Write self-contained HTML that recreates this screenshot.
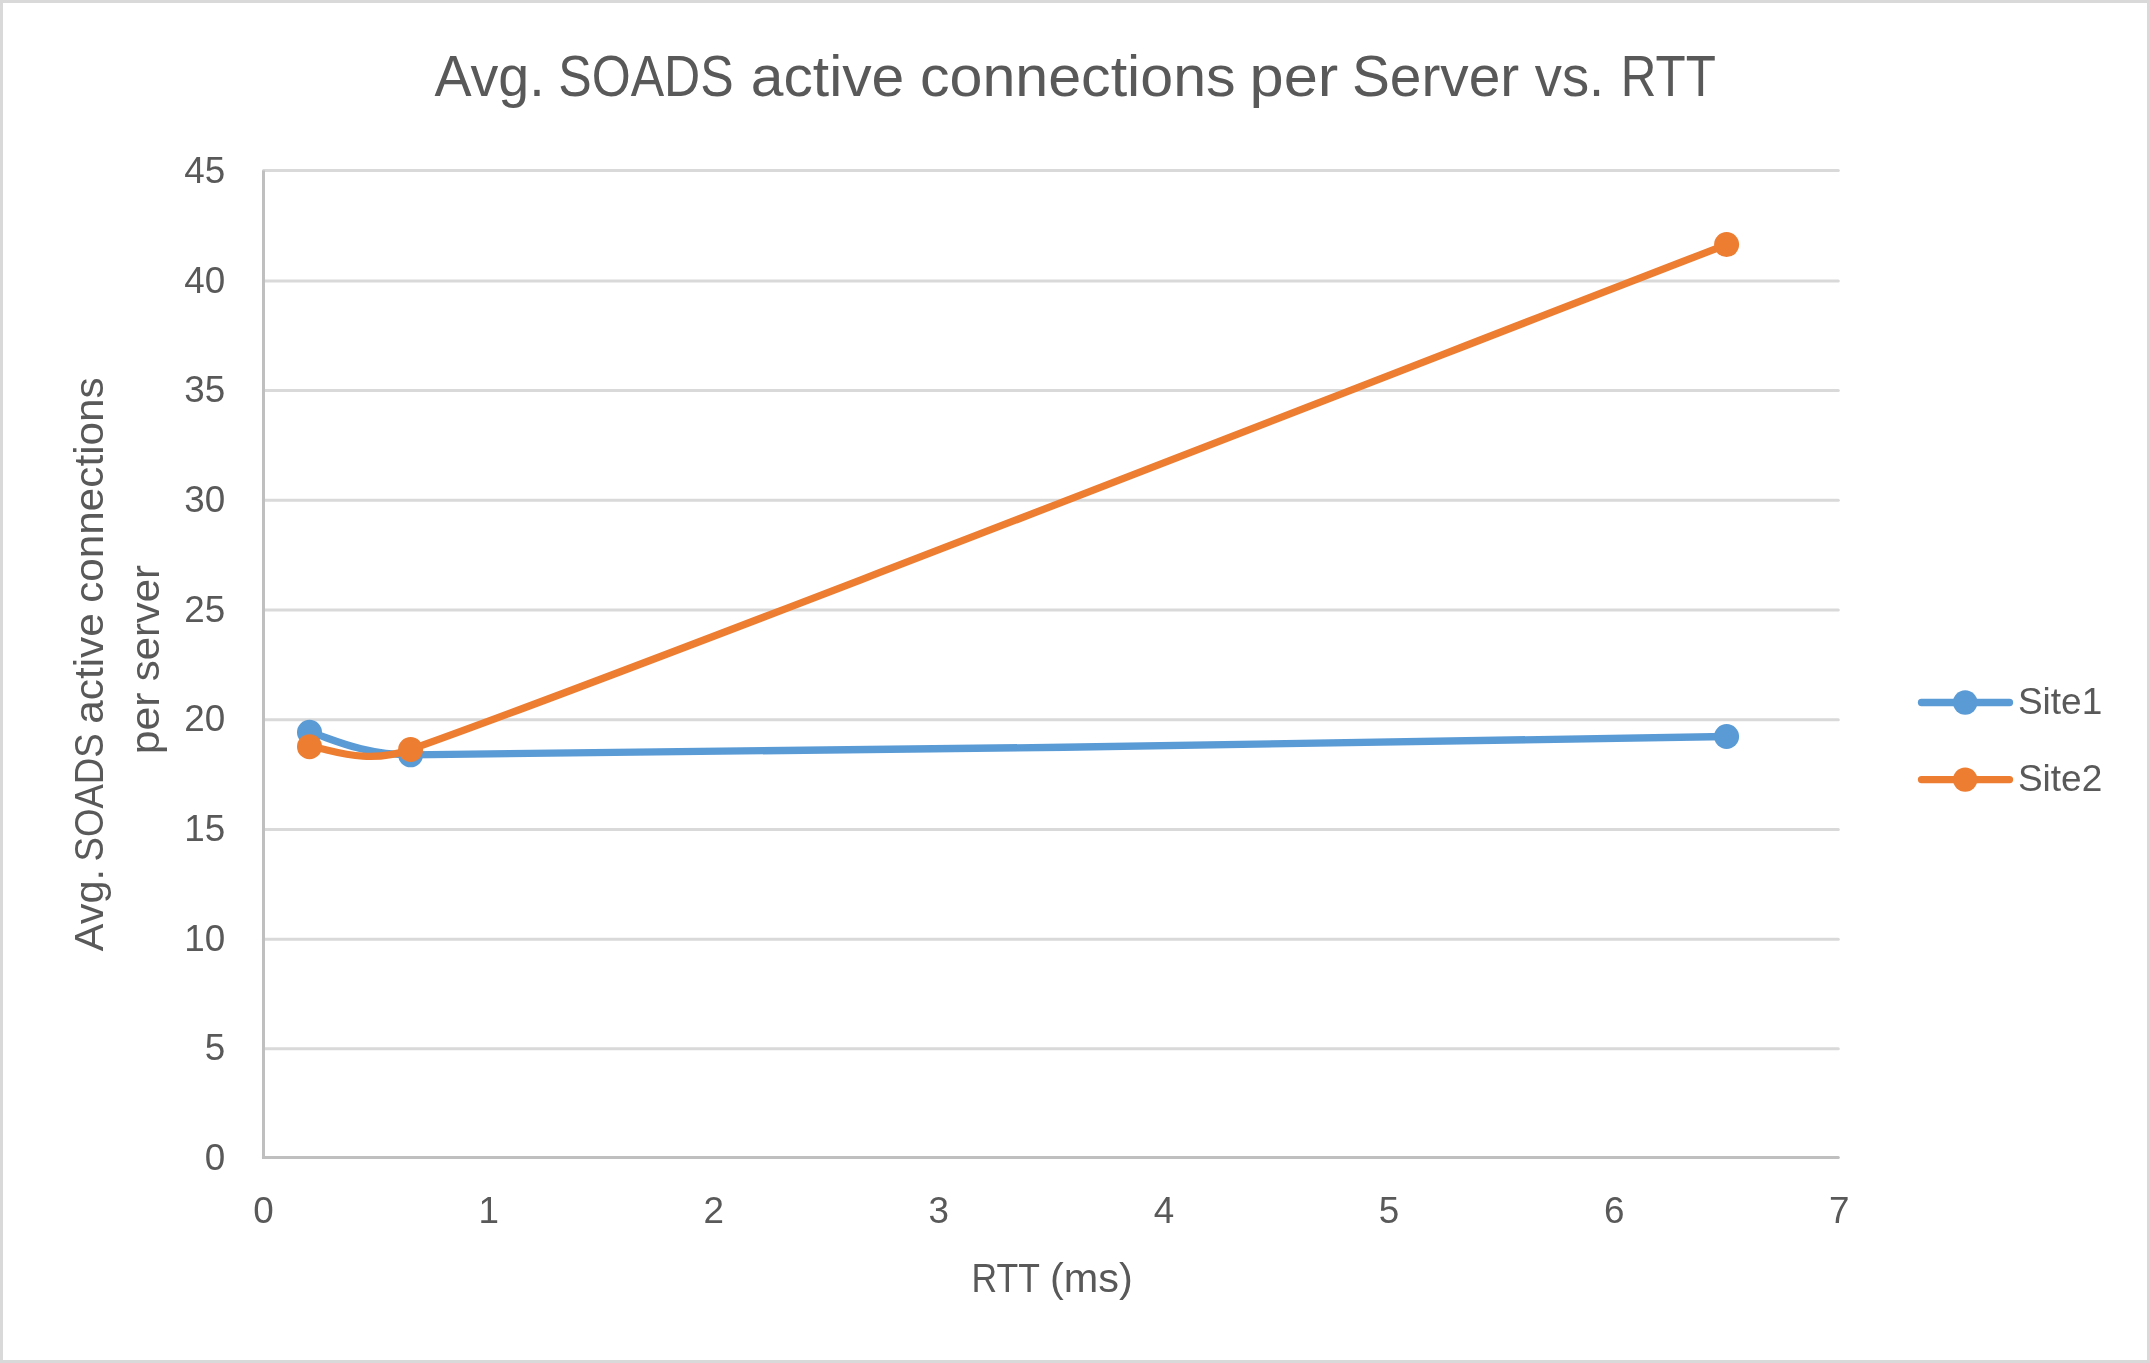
<!DOCTYPE html>
<html lang="en"><head><meta charset="utf-8"><title>Avg. SOADS active connections per Server vs. RTT</title>
<style>html,body{margin:0;padding:0;background:#fff;}svg{display:block;will-change:transform;}text{fill:#595959;font-family:"Liberation Sans",sans-serif;}</style>
</head><body>
<svg width="2150" height="1363" viewBox="0 0 2150 1363">
<rect x="0" y="0" width="2150" height="1363" fill="#ffffff"/>
<rect x="1.5" y="1.5" width="2147" height="1360" fill="none" stroke="#d9d9d9" stroke-width="3"/>
<line x1="263.50" y1="1048.87" x2="1838.30" y2="1048.87" stroke="#d9d9d9" stroke-width="3" stroke-linecap="round"/>
<line x1="263.50" y1="939.16" x2="1838.30" y2="939.16" stroke="#d9d9d9" stroke-width="3" stroke-linecap="round"/>
<line x1="263.50" y1="829.45" x2="1838.30" y2="829.45" stroke="#d9d9d9" stroke-width="3" stroke-linecap="round"/>
<line x1="263.50" y1="719.74" x2="1838.30" y2="719.74" stroke="#d9d9d9" stroke-width="3" stroke-linecap="round"/>
<line x1="263.50" y1="610.03" x2="1838.30" y2="610.03" stroke="#d9d9d9" stroke-width="3" stroke-linecap="round"/>
<line x1="263.50" y1="500.32" x2="1838.30" y2="500.32" stroke="#d9d9d9" stroke-width="3" stroke-linecap="round"/>
<line x1="263.50" y1="390.61" x2="1838.30" y2="390.61" stroke="#d9d9d9" stroke-width="3" stroke-linecap="round"/>
<line x1="263.50" y1="280.90" x2="1838.30" y2="280.90" stroke="#d9d9d9" stroke-width="3" stroke-linecap="round"/>
<line x1="263.50" y1="170.50" x2="1838.30" y2="170.50" stroke="#d9d9d9" stroke-width="3" stroke-linecap="round"/>
<line x1="263.50" y1="170.50" x2="263.50" y2="1159.00" stroke="#bfbfbf" stroke-width="3"/>
<line x1="263.50" y1="1157.50" x2="1838.30" y2="1157.50" stroke="#bfbfbf" stroke-width="3" stroke-linecap="round"/>
<text y="96.2" font-size="57"><tspan x="434.38" textLength="110.31" lengthAdjust="spacingAndGlyphs">Avg.</tspan> <tspan x="558.34" textLength="175.30" lengthAdjust="spacingAndGlyphs">SOADS</tspan> <tspan x="750.71" textLength="153.59" lengthAdjust="spacingAndGlyphs">active</tspan> <tspan x="919.96" textLength="315.68" lengthAdjust="spacingAndGlyphs">connections</tspan> <tspan x="1249.53" textLength="88.75" lengthAdjust="spacingAndGlyphs">per</tspan> <tspan x="1351.92" textLength="167.31" lengthAdjust="spacingAndGlyphs">Server</tspan> <tspan x="1534.79" textLength="69.34" lengthAdjust="spacingAndGlyphs">vs.</tspan> <tspan x="1620.82" textLength="95.03" lengthAdjust="spacingAndGlyphs">RTT</tspan></text>
<text x="225.3" y="1170.03" font-size="36.8" text-anchor="end">0</text>
<text x="225.3" y="1060.36" font-size="36.8" text-anchor="end">5</text>
<text x="225.3" y="950.69" font-size="36.8" text-anchor="end">10</text>
<text x="225.3" y="841.02" font-size="36.8" text-anchor="end">15</text>
<text x="225.3" y="731.35" font-size="36.8" text-anchor="end">20</text>
<text x="225.3" y="621.68" font-size="36.8" text-anchor="end">25</text>
<text x="225.3" y="512.01" font-size="36.8" text-anchor="end">30</text>
<text x="225.3" y="402.34" font-size="36.8" text-anchor="end">35</text>
<text x="225.3" y="292.67" font-size="36.8" text-anchor="end">40</text>
<text x="225.3" y="183.00" font-size="36.8" text-anchor="end">45</text>
<text x="263.50" y="1223.3" font-size="36.8" text-anchor="middle">0</text>
<text x="488.61" y="1223.3" font-size="36.8" text-anchor="middle">1</text>
<text x="713.73" y="1223.3" font-size="36.8" text-anchor="middle">2</text>
<text x="938.84" y="1223.3" font-size="36.8" text-anchor="middle">3</text>
<text x="1163.96" y="1223.3" font-size="36.8" text-anchor="middle">4</text>
<text x="1389.07" y="1223.3" font-size="36.8" text-anchor="middle">5</text>
<text x="1614.19" y="1223.3" font-size="36.8" text-anchor="middle">6</text>
<text x="1839.30" y="1223.3" font-size="36.8" text-anchor="middle">7</text>
<text y="1291.9" font-size="41.5"><tspan x="971.48" textLength="67.73" lengthAdjust="spacingAndGlyphs">RTT</tspan> <tspan x="1049.99" textLength="82.78" lengthAdjust="spacingAndGlyphs">(ms)</tspan></text>
<text transform="rotate(-90)" y="102.7" font-size="41.5"><tspan x="-951.24" textLength="82.28" lengthAdjust="spacingAndGlyphs">Avg.</tspan> <tspan x="-861.47" textLength="128.13" lengthAdjust="spacingAndGlyphs">SOADS</tspan> <tspan x="-723.88" textLength="110.78" lengthAdjust="spacingAndGlyphs">active</tspan> <tspan x="-602.83" textLength="225.46" lengthAdjust="spacingAndGlyphs">connections</tspan></text>
<text transform="rotate(-90)" y="158.6" font-size="41.5"><tspan x="-754.36" textLength="61.80" lengthAdjust="spacingAndGlyphs">per</tspan> <tspan x="-681.25" textLength="116.26" lengthAdjust="spacingAndGlyphs">server</tspan></text>
<path d="M309.50,732.30 C326.35,736.05 358.81,754.65 410.60,754.80 C646.78,755.50 1507.27,739.55 1726.60,736.50" fill="none" stroke="#5b9bd5" stroke-width="7.3" stroke-linecap="round" stroke-linejoin="round"/>
<circle cx="309.5" cy="732.3" r="12.5" fill="#5b9bd5"/>
<circle cx="410.6" cy="754.8" r="12.5" fill="#5b9bd5"/>
<circle cx="1726.6" cy="736.5" r="12.5" fill="#5b9bd5"/>
<path d="M309.50,746.70 C326.35,747.17 362.93,766.39 410.60,749.50 C646.78,665.82 1507.27,328.75 1726.60,244.60" fill="none" stroke="#ed7d31" stroke-width="7.3" stroke-linecap="round" stroke-linejoin="round"/>
<circle cx="309.5" cy="746.7" r="12.5" fill="#ed7d31"/>
<circle cx="410.6" cy="749.5" r="12.5" fill="#ed7d31"/>
<circle cx="1726.6" cy="244.6" r="12.5" fill="#ed7d31"/>
<line x1="1921.5" y1="702.5" x2="2009.5" y2="702.5" stroke="#5b9bd5" stroke-width="7.3" stroke-linecap="round"/>
<circle cx="1965.2" cy="702.5" r="12.2" fill="#5b9bd5"/>
<text y="714.0" font-size="37"><tspan x="2017.91" textLength="84.37" lengthAdjust="spacingAndGlyphs">Site1</tspan></text>
<line x1="1921.5" y1="779.6" x2="2009.5" y2="779.6" stroke="#ed7d31" stroke-width="7.3" stroke-linecap="round"/>
<circle cx="1965.2" cy="779.6" r="12.2" fill="#ed7d31"/>
<text y="791.2" font-size="37"><tspan x="2017.91" textLength="84.37" lengthAdjust="spacingAndGlyphs">Site2</tspan></text>
</svg></body></html>
